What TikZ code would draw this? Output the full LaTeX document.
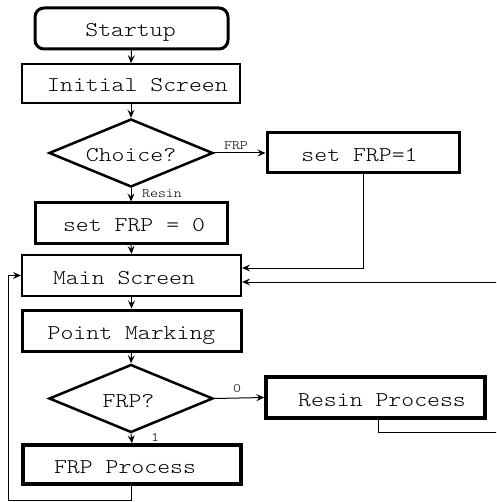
\documentclass[tikz,border=0pt]{standalone}
\usepackage{fontspec}
\setmonofont[FakeStretch=1.17]{lmmonolt10-regular.otf}
\usetikzlibrary{shapes.geometric,arrows.meta}
\newcommand\offtxt[2]{\hbox to 0pt{\hss\hspace*{#1}#2\hspace*{-#1}\hss}}
\tikzset{
  box/.style={draw, rectangle, inner sep=0pt, text height=17pt, text depth=0pt, font=\ttfamily\fontsize{21}{24}\selectfont},
  dec/.style={draw, diamond, aspect=2.4, inner sep=0pt, text height=17pt, text depth=0pt, minimum width=164pt, minimum height=68pt, line width=2.5pt, font=\ttfamily\fontsize{21}{24}\selectfont},
  conn/.style={line width=1pt, -{Stealth[length=8pt,width=7pt,inset=3pt]}},
  lab/.style={inner sep=0pt, font=\ttfamily\fontsize{13}{15}\selectfont},
}
\begin{document}
\begin{tikzpicture}[x=1pt,y=-1pt]
\clip (0,0) rectangle (496,502);
\node[box, rounded corners=9pt, line width=3pt, minimum width=193pt, minimum height=41pt] (startup) at (131.5,28.5) {\offtxt{-1pt}{Startup}};
\node[box, line width=1.6pt, minimum width=218pt, minimum height=39pt] (init) at (131,83.5) {\offtxt{6.5pt}{Initial Screen}};
\node[dec] (choice) at (131,153) {Choice?};
\node[box, line width=3pt, minimum width=192pt, minimum height=40pt] (frp1) at (363,153) {\offtxt{-3.5pt}{set FRP=1}};
\node[box, line width=3pt, minimum width=192pt, minimum height=40pt] (frp0) at (131,223) {\offtxt{3pt}{set FRP = 0}};
\node[box, line width=2.2pt, minimum width=219pt, minimum height=41pt] (main) at (131.5,275.5) {\offtxt{-7.5pt}{Main Screen}};
\node[box, line width=3pt, minimum width=219pt, minimum height=41pt] (point) at (131.5,330.5) {Point Marking};
\node[dec] (frpq) at (131,398.5) {\offtxt{-2.5pt}{FRP?}};
\node[box, line width=3.5pt, minimum width=219pt, minimum height=41pt] (resin) at (375.5,397.5) {\offtxt{6.5pt}{Resin Process}};
\node[box, line width=3.5pt, minimum width=218pt, minimum height=39pt] (frpp) at (132,464.5) {\offtxt{-7pt}{FRP Process}};

\node[lab] (lfrp) at (236,146) {FRP};
\node[lab] (lresin) at (162,194) {Resin};
\node[lab] (lzero) at (237,389) {0};
\node[lab] (lone) at (155,437) {1};

\coordinate (rb) at (500,432);
\coordinate (rt) at (500,282);
\coordinate (lb) at (8,500);

\draw[conn] (startup.south) -- (init.north);
\draw[conn] (init.south) -- (choice.north);
\draw[conn] (choice.east) -- (frp1.west);
\draw[conn] (choice.south) -- (frp0.north);
\draw[conn] (frp0.south) -- (main.north);
\draw[conn] (frp1.south) |- ([yshift=7.5pt]main.east);
\draw[conn] ([xshift=2.5pt]resin.south) |- (rb) -- (rt) -- ([yshift=-6.5pt]main.east);
\draw[conn] (main.south) -- (point.north);
\draw[conn] (point.south) -- (frpq.north);
\draw[conn] (frpq.east) -- (resin.west);
\draw[conn] (frpq.south) -- (frpp.north);
\draw[conn] ([xshift=-1pt]frpp.south) |- (lb) |- (main.west);
\end{tikzpicture}
\end{document}
